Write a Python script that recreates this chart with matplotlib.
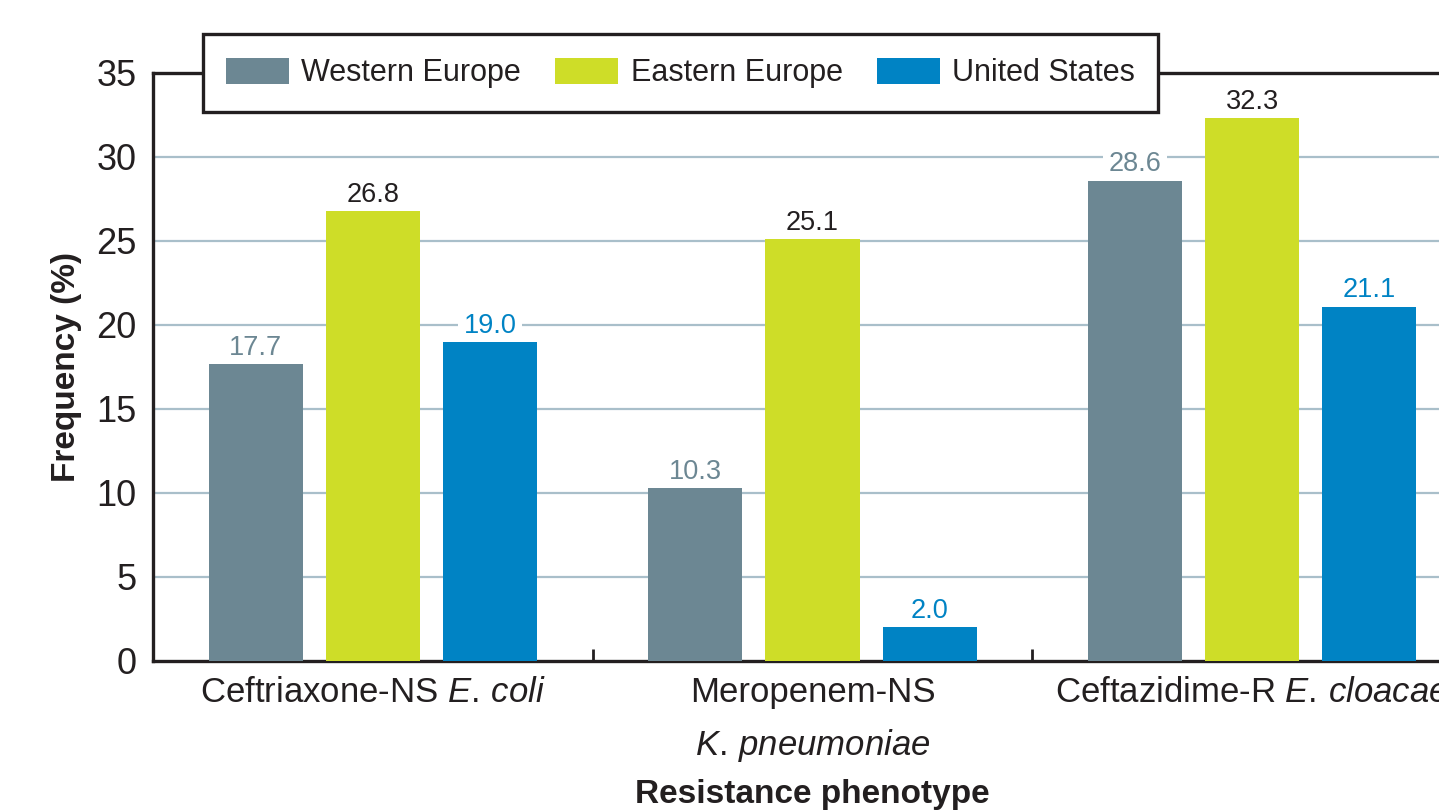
import matplotlib
matplotlib.use("Agg")
import matplotlib.pyplot as plt
import numpy as np
from matplotlib.ticker import FixedLocator, NullFormatter

FONT = ["Liberation Sans", "DejaVu Sans"]
plt.rcParams["font.family"] = FONT
plt.rcParams["mathtext.fontset"] = "custom"
plt.rcParams["mathtext.rm"] = "Liberation Sans"
plt.rcParams["mathtext.it"] = "Liberation Sans:italic"
plt.rcParams["mathtext.bf"] = "Liberation Sans:bold"

# Data
categories = [
    r"Ceftriaxone-NS $\mathit{E.\,coli}$",
    "Meropenem-NS\n" + r"$\mathit{K.\,pneumoniae}$",
    r"Ceftazidime-R $\mathit{E.\,cloacae}$",
]
regions = ["Western Europe", "Eastern Europe", "United States"]
western_europe = [17.7, 10.3, 28.6]
eastern_europe = [26.8, 25.1, 32.3]
united_states = [19.0, 2.0, 21.1]
y_ticks = [0, 5, 10, 15, 20, 25, 30, 35]

series = [western_europe, eastern_europe, united_states]
bar_colors = ["#6c8793", "#cedd28", "#0083c4"]
label_colors = ["#6c8793", "#231f20", "#0083c4"]
ink = "#231f20"
grid_color = "#a9bfca"

W, H = 1439, 810
fig = plt.figure(figsize=(W / 100, H / 100), dpi=100)
fig.patch.set_facecolor("white")

# Axes box in pixels: left spine at x=153, value 0 at y=661, value 35 at y=73
left_px, right_px = 153, 1472
top_px, bottom_px = 73, 661
ax = fig.add_axes([left_px / W, (H - bottom_px) / H,
                   (right_px - left_px) / W, (bottom_px - top_px) / H])

x = np.arange(len(categories))
width = 0.214
step = 0.2665

bars = []
for i, (vals, col, lcol) in enumerate(zip(series, bar_colors, label_colors)):
    pos = x + (i - 1) * step
    b = ax.bar(pos, vals, width=width, color=col, label=regions[i], zorder=3)
    bars.append(b)
    for xp, v in zip(pos, vals):
        ax.annotate(f"{v:.1f}", xy=(xp, v), xytext=(0, 6.5),
                    textcoords="offset points", ha="center", va="baseline",
                    fontsize=19.5, color=lcol, zorder=2,
                    bbox=dict(boxstyle="square,pad=0.2", fc="white", ec="none"))

ax.set_xlim(-0.5, 2.5)
ax.set_ylim(0, 35)
ax.set_yticks(y_ticks)
ax.set_xticks(x)
ax.set_xticklabels(categories, fontsize=25, color=ink, linespacing=1.62)
ax.tick_params(axis="y", length=0, pad=12, labelsize=26, labelcolor=ink)
ax.tick_params(axis="x", which="major", length=0, pad=11)
ax.xaxis.set_minor_locator(FixedLocator([0.5, 1.5, 2.5]))
ax.xaxis.set_minor_formatter(NullFormatter())
ax.tick_params(axis="x", which="minor", direction="in", length=9,
               width=2, color=ink)

# Horizontal grid lines (below 35, which is the top spine)
for yv in y_ticks[1:-1]:
    ax.axhline(yv, color=grid_color, lw=1.6, zorder=1)

for side in ["left", "bottom", "top", "right"]:
    ax.spines[side].set_color(ink)
    ax.spines[side].set_linewidth(2.4)

ax.set_ylabel("Frequency (%)", fontsize=24, fontweight="bold", color=ink)
ax.yaxis.set_label_coords(-0.054, 0.5)
ax.set_xlabel("Resistance phenotype", fontsize=24, fontweight="bold", color=ink)
ax.xaxis.set_label_coords(0.5, -0.200)

leg = fig.legend(handles=bars, labels=regions, loc="center",
                 bbox_to_anchor=((203 + 1158) / 2 / W, (H - 73) / H),
                 ncol=3, fontsize=22, frameon=True, fancybox=False,
                 framealpha=1, edgecolor=ink, handlelength=2.06,
                 handleheight=0.95, handletextpad=0.4, columnspacing=1.12,
                 borderpad=0.76, borderaxespad=0)
leg.get_frame().set_linewidth(2.4)
for t in leg.get_texts():
    t.set_color(ink)

fig.savefig("out.png", dpi=100)
